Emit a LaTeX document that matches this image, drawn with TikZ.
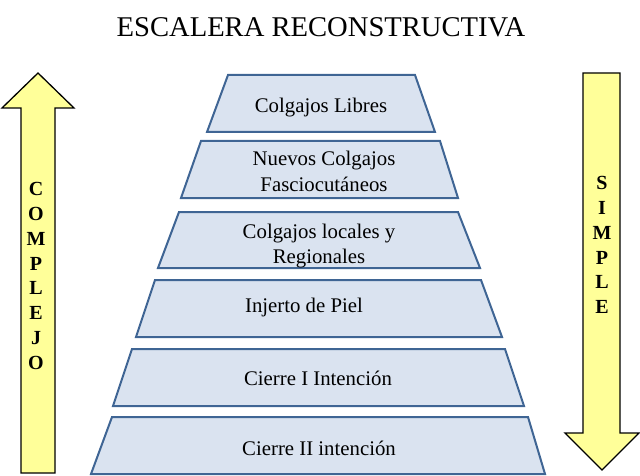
\documentclass[tikz,border=0pt]{standalone}
\usepackage{fontspec}
\setmainfont{Liberation Serif}
\definecolor{trapfill}{HTML}{DAE3F0}
\definecolor{trapline}{HTML}{3F6594}
\definecolor{arrowfill}{HTML}{FFFF99}
\begin{document}
\begin{tikzpicture}[x=1pt,y=-1pt,
  trap/.style={fill=trapfill,draw=trapline,line width=2pt,line join=miter},
  bigarrow/.style={fill=arrowfill,draw=black,line width=1.3pt,line join=miter},
  traptext/.style={anchor=base,inner sep=0pt,align=center,font=\fontsize{20.8}{25}\selectfont},
  vertletters/.style={inner sep=0pt,align=center,font=\fontsize{20}{24.9}\selectfont\bfseries}]
\useasboundingbox (0,0) rectangle (640,476);
% title
\node[anchor=base,inner sep=0pt,font=\fontsize{28.6}{34}\selectfont] (title) at (321,37) {ESCALERA RECONSTRUCTIVA};
% trapezoids
\draw[trap] (228,75) -- (415,75) -- (435,132) -- (207,132) -- cycle;
\node[traptext] (t1) at (321,113) {Colgajos Libres};
\draw[trap] (201,141) -- (440,141) -- (458,198) -- (181,198) -- cycle;
\node[traptext] (t2) at (324,191) {Nuevos Colgajos\\ Fasciocutáneos};
\draw[trap] (179,212) -- (458,212) -- (480,268) -- (158,268) -- cycle;
\node[traptext] (t3) at (319,263) {Colgajos locales y\\Regionales};
\draw[trap] (155,280) -- (481,280) -- (502,337) -- (136,337) -- cycle;
\node[traptext] (t4) at (304,312) {Injerto de Piel};
\draw[trap] (132,349) -- (505,349) -- (524,406) -- (113,406) -- cycle;
\node[traptext] (t5) at (318,385) {Cierre I Intención};
\draw[trap] (112,417) -- (528,417) -- (545,474) -- (91,474) -- cycle;
\node[traptext] (t6) at (319,455) {Cierre II intención};
% arrows
\draw[bigarrow] (21,473) -- (21,108) -- (2,108) -- (38,73) -- (74,108) -- (55,108) -- (55,473) -- cycle;
\node[vertletters] (complejo) at (36,276) {C\\O\\M\\P\\L\\E\\J\\O};
\draw[bigarrow] (583,73) -- (620,73) -- (620,433) -- (639,433) -- (602,470) -- (565,433) -- (583,433) -- cycle;
\node[vertletters] (simple) at (602,245) {S\\I\\M\\P\\L\\E};
\end{tikzpicture}
\end{document}
